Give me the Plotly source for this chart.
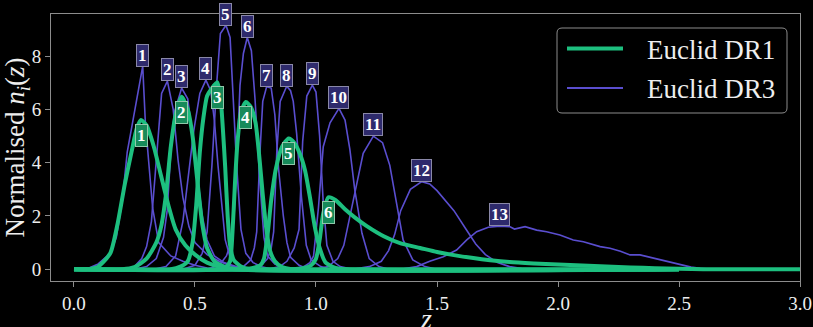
import plotly.graph_objects as go

# ---------------- data ----------------
bin_labels_dr1 = ["1", "2", "3", "4", "5", "6"]
bin_labels_dr3 = ["1", "2", "3", "4", "5", "6", "7", "8", "9", "10", "11", "12", "13"]
series_names = ["Euclid DR1", "Euclid DR3"]

dr1_z = [
    [0.0, 0.05, 0.10, 0.15, 0.18, 0.21, 0.24, 0.26, 0.277, 0.30, 0.33, 0.36, 0.39, 0.42, 0.46, 0.50, 0.55, 0.60, 0.65, 0.70, 2.5],
    [0.0, 0.20, 0.25, 0.30, 0.34, 0.36, 0.38, 0.40, 0.42, 0.445, 0.47, 0.49, 0.51, 0.53, 0.55, 0.58, 0.62, 0.66, 2.5],
    [0.0, 0.40, 0.44, 0.47, 0.49, 0.505, 0.52, 0.535, 0.55, 0.57, 0.592, 0.605, 0.615, 0.625, 0.635, 0.645, 0.66, 0.69, 0.73, 2.5],
    [0.0, 0.60, 0.63, 0.645, 0.655, 0.665, 0.675, 0.69, 0.71, 0.73, 0.75, 0.765, 0.78, 0.795, 0.81, 0.83, 0.86, 0.90, 2.5],
    [0.0, 0.70, 0.74, 0.77, 0.785, 0.80, 0.815, 0.835, 0.86, 0.887, 0.91, 0.935, 0.955, 0.975, 0.995, 1.015, 1.04, 1.08, 1.12, 2.5],
    [0.0, 0.90, 0.95, 0.98, 1.00, 1.015, 1.03, 1.051, 1.08, 1.12, 1.16, 1.21, 1.28, 1.35, 1.43, 1.50, 1.57, 1.65, 1.72, 1.80,
     1.90, 2.00, 2.10, 2.20, 2.30, 2.40, 2.50, 2.60, 3.0],
]
dr1_n = [
    [0.0, 0.0, 0.1, 0.6, 1.7, 3.2, 4.5, 5.3, 5.6, 5.4, 4.6, 3.5, 2.4, 1.5, 0.9, 0.55, 0.25, 0.1, 0.03, 0.0, 0.0],
    [0.0, 0.0, 0.08, 0.4, 1.0, 1.6, 2.8, 4.6, 5.8, 6.47, 6.0, 5.0, 3.3, 1.7, 0.8, 0.3, 0.1, 0.0, 0.0],
    [0.0, 0.0, 0.1, 0.3, 1.0, 2.4, 4.4, 5.7, 6.5, 6.8, 7.02, 6.5, 5.3, 3.8, 2.0, 0.9, 0.35, 0.1, 0.0, 0.0],
    [0.0, 0.0, 0.1, 0.3, 1.4, 3.2, 4.7, 5.9, 6.28, 6.1, 5.5, 4.3, 2.8, 1.5, 0.7, 0.3, 0.08, 0.0, 0.0],
    [0.0, 0.0, 0.05, 0.15, 0.4, 1.3, 2.6, 3.8, 4.6, 4.91, 4.75, 4.3, 3.7, 2.7, 1.6, 0.8, 0.25, 0.05, 0.0, 0.0],
    [0.0, 0.0, 0.05, 0.15, 0.4, 1.1, 2.1, 2.7, 2.6, 2.25, 1.95, 1.62, 1.24, 0.97, 0.8, 0.65, 0.53, 0.42, 0.34, 0.27,
     0.22, 0.18, 0.14, 0.1, 0.07, 0.04, 0.02, 0.0, 0.0],
]

dr3_z = [
    [0.05, 0.10, 0.15, 0.175, 0.20, 0.22, 0.24, 0.284, 0.295, 0.31, 0.325, 0.35, 0.40, 0.45, 0.50, 0.55, 0.60, 3.0],
    [0.05, 0.20, 0.25, 0.28, 0.30, 0.32, 0.335, 0.35, 0.362, 0.386, 0.41, 0.43, 0.45, 0.475, 0.50, 0.55, 0.60, 0.65, 0.70, 3.0],
    [0.05, 0.25, 0.30, 0.34, 0.37, 0.385, 0.40, 0.415, 0.445, 0.47, 0.49, 0.51, 0.53, 0.55, 0.58, 0.62, 0.67, 0.72, 3.0],
    [0.05, 0.33, 0.38, 0.42, 0.45, 0.47, 0.495, 0.52, 0.545, 0.565, 0.58, 0.595, 0.61, 0.625, 0.645, 0.68, 0.72, 3.0],
    [0.05, 0.45, 0.50, 0.53, 0.55, 0.57, 0.59, 0.605, 0.628, 0.645, 0.658, 0.672, 0.69, 0.71, 0.74, 0.78, 0.82, 3.0],
    [0.05, 0.55, 0.60, 0.63, 0.645, 0.66, 0.672, 0.686, 0.70, 0.716, 0.733, 0.748, 0.768, 0.785, 0.80, 0.83, 0.87, 0.90, 3.0],
    [0.05, 0.65, 0.70, 0.73, 0.745, 0.755, 0.768, 0.78, 0.796, 0.815, 0.83, 0.845, 0.865, 0.88, 0.895, 0.93, 0.97, 3.0],
    [0.05, 0.72, 0.77, 0.80, 0.815, 0.825, 0.838, 0.852, 0.879, 0.895, 0.906, 0.92, 0.94, 0.96, 0.98, 1.02, 1.06, 3.0],
    [0.05, 0.80, 0.85, 0.88, 0.91, 0.93, 0.945, 0.962, 0.985, 1.00, 1.015, 1.03, 1.045, 1.07, 1.10, 1.15, 3.0],
    [0.05, 0.90, 0.95, 0.975, 0.99, 1.01, 1.03, 1.058, 1.095, 1.12, 1.14, 1.16, 1.19, 1.22, 1.26, 1.30, 3.0],
    [0.05, 1.00, 1.05, 1.09, 1.115, 1.155, 1.195, 1.237, 1.275, 1.305, 1.335, 1.36, 1.40, 1.45, 1.50, 3.0],
    [0.05, 1.15, 1.22, 1.27, 1.30, 1.325, 1.35, 1.39, 1.437, 1.47, 1.50, 1.54, 1.57, 1.62, 1.66, 1.70, 1.75, 1.80, 1.85, 1.90, 3.0],
    [0.05, 1.35, 1.416, 1.47, 1.526, 1.581, 1.623, 1.664, 1.712, 1.76, 1.80, 1.82, 1.864, 1.912, 1.953, 2.008, 2.063, 2.105,
     2.174, 2.215, 2.258, 2.298, 2.339, 2.38, 2.421, 2.46, 2.504, 2.55, 2.587, 2.64, 3.0],
]
dr3_n = [
    [0.0, 0.2, 0.6, 1.2, 2.6, 4.4, 5.4, 7.62, 5.5, 4.0, 2.3, 1.0, 0.5, 0.3, 0.15, 0.05, 0.0, 0.0],
    [0.0, 0.0, 0.1, 0.4, 0.85, 1.8, 3.5, 5.2, 6.6, 7.06, 6.0, 4.1, 2.7, 1.6, 1.0, 0.55, 0.3, 0.12, 0.0, 0.0],
    [0.0, 0.0, 0.1, 0.4, 1.2, 2.2, 4.4, 5.9, 6.8, 6.4, 5.0, 3.4, 2.0, 1.1, 0.5, 0.25, 0.1, 0.0, 0.0],
    [0.0, 0.0, 0.1, 0.5, 1.8, 3.3, 5.2, 6.6, 7.1, 6.7, 5.6, 3.9, 2.4, 1.1, 0.45, 0.15, 0.0, 0.0],
    [0.0, 0.0, 0.15, 0.6, 1.4, 3.9, 7.0, 8.85, 9.16, 8.7, 6.4, 3.9, 1.5, 0.6, 0.25, 0.08, 0.0, 0.0],
    [0.0, 0.0, 0.15, 0.5, 0.9, 1.8, 3.8, 6.9, 8.1, 8.7, 8.2, 6.4, 3.3, 1.2, 0.5, 0.2, 0.06, 0.0, 0.0],
    [0.0, 0.0, 0.1, 0.35, 0.8, 1.4, 4.3, 6.3, 6.85, 6.8, 5.8, 3.8, 2.0, 1.0, 0.45, 0.15, 0.0, 0.0],
    [0.0, 0.0, 0.1, 0.4, 0.8, 1.4, 4.4, 6.3, 6.87, 6.7, 6.3, 5.1, 2.7, 0.9, 0.35, 0.1, 0.0, 0.0],
    [0.0, 0.0, 0.1, 0.3, 0.8, 1.5, 4.8, 6.5, 6.91, 6.65, 5.0, 2.5, 0.9, 0.3, 0.1, 0.0, 0.0],
    [0.0, 0.0, 0.1, 0.25, 0.5, 2.3, 4.6, 5.5, 6.04, 5.6, 4.5, 3.0, 1.35, 0.4, 0.1, 0.0, 0.0],
    [0.0, 0.0, 0.1, 0.4, 0.9, 2.6, 4.35, 5.0, 4.75, 3.9, 2.35, 1.1, 0.35, 0.1, 0.0, 0.0],
    [0.0, 0.0, 0.1, 0.3, 0.7, 1.3, 2.2, 3.0, 3.29, 3.2, 2.95, 2.5, 2.2, 1.5, 0.95, 0.55, 0.25, 0.1, 0.03, 0.0, 0.0],
    [0.0, 0.0, 0.1, 0.3, 0.47, 0.72, 1.1, 1.41, 1.58, 1.62, 1.6, 1.51, 1.6, 1.47, 1.41, 1.29, 1.1, 1.03,
     0.85, 0.79, 0.68, 0.54, 0.54, 0.45, 0.35, 0.25, 0.16, 0.08, 0.04, 0.0, 0.0],
]

# ---------------- styling ----------------
FONT = "Liberation Serif"
GREEN = "#1dbf7f"
PURPLE = "#5a4ecf"
GREEN_BOX = "#178a5a"
PURPLE_BOX = "#2e2a6c"
AXIS_GREY = "#8c8c8c"
TEXT = "#eeeeee"

W, H = 813, 327
ML, MR, MT, MB = 51, 13, 14, 46
PW, PH = W - ML - MR, H - MT - MB


def px_x(px):  # page pixel -> paper x
    return (px - ML) / PW


def px_y(py):  # page pixel -> paper y
    return (H - MB - py) / PH


fig = go.Figure()

for k, (zs, ns) in enumerate(zip(dr3_z, dr3_n)):
    fig.add_trace(go.Scatter(
        x=zs, y=ns, mode="lines", name=series_names[1], legendgroup="dr3",
        showlegend=False, line=dict(color=PURPLE, width=1.6), hoverinfo="skip"))

for k, (zs, ns) in enumerate(zip(dr1_z, dr1_n)):
    fig.add_trace(go.Scatter(
        x=zs, y=ns, mode="lines", name=series_names[0], legendgroup="dr1",
        showlegend=False, line=dict(color=GREEN, width=4, shape="spline", smoothing=0.6),
        hoverinfo="skip"))

# bin labels at the peaks
for lab, zs, ns in zip(bin_labels_dr3, dr3_z, dr3_n):
    i = max(range(len(ns)), key=lambda j: ns[j])
    fig.add_annotation(x=zs[i], y=ns[i] + 0.42, text=f"<b>{lab}</b>", showarrow=False,
                       font=dict(family=FONT, size=17, color="white"),
                       bgcolor=PURPLE_BOX, bordercolor="#8a88a8", borderwidth=1, borderpad=1)
for lab, zs, ns in zip(bin_labels_dr1, dr1_z, dr1_n):
    i = max(range(len(ns)), key=lambda j: ns[j])
    fig.add_annotation(x=zs[i], y=ns[i] - 0.57, text=f"<b>{lab}</b>", showarrow=False,
                       font=dict(family=FONT, size=17, color="white"),
                       bgcolor=GREEN_BOX, bordercolor="#8fc8aa", borderwidth=1, borderpad=1)

# legend (rounded frame, line samples, labels)
bx0, bx1, by0, by1, r = 557, 787, 28, 113, 5
rx, ry = r / PW, r / PH
X0, X1, Y0, Y1 = px_x(bx0), px_x(bx1), px_y(by0), px_y(by1)
path = (f"M{X0 + rx},{Y0} L{X1 - rx},{Y0} Q{X1},{Y0} {X1},{Y0 - ry} "
        f"L{X1},{Y1 + ry} Q{X1},{Y1} {X1 - rx},{Y1} L{X0 + rx},{Y1} "
        f"Q{X0},{Y1} {X0},{Y1 + ry} L{X0},{Y0 - ry} Q{X0},{Y0} {X0 + rx},{Y0} Z")
fig.add_shape(type="path", path=path, xref="paper", yref="paper",
              line=dict(color=AXIS_GREY, width=1), fillcolor="black", layer="above")
for name, col, wid, py in [(series_names[0], GREEN, 4, 48.5), (series_names[1], PURPLE, 1.8, 88)]:
    fig.add_shape(type="line", xref="paper", yref="paper",
                  x0=px_x(567), x1=px_x(623), y0=px_y(py), y1=px_y(py),
                  line=dict(color=col, width=wid), layer="above")
    fig.add_annotation(xref="paper", yref="paper", x=px_x(645), y=px_y(py + 1),
                       xanchor="left", yanchor="middle", text=name, showarrow=False,
                       font=dict(family=FONT, size=27, color=TEXT))

# x-axis title (placed like the reference, partly below the tick labels)
fig.add_annotation(xref="paper", yref="paper", x=0.5, y=px_y(318), xanchor="center",
                   yanchor="middle", text="<i>z</i>", showarrow=False,
                   font=dict(family=FONT, size=28, color=TEXT))

axis_common = dict(
    showgrid=False, zeroline=False, showline=True, mirror=True, automargin=False,
    linecolor=AXIS_GREY, linewidth=1, ticks="outside", ticklen=5, tickwidth=1,
    tickcolor=AXIS_GREY, tickfont=dict(family=FONT, size=19, color=TEXT),
)

fig.update_layout(
    width=W, height=H,
    paper_bgcolor="black", plot_bgcolor="black",
    margin=dict(l=ML, r=MR, t=MT, b=MB),
    font=dict(family=FONT, color=TEXT),
    xaxis=dict(range=[-0.095, 3.0], tickvals=[0, 0.5, 1.0, 1.5, 2.0, 2.5, 3.0],
               ticktext=["0.0", "0.5", "1.0", "1.5", "2.0", "2.5", "3.0"],
               **axis_common),
    yaxis=dict(range=[-0.44, 9.58], tickvals=[0, 2, 4, 6, 8],
               title=dict(text="Normalised <i>n</i><sub><i>i</i></sub>(<i>z</i>)",
                          font=dict(family=FONT, size=27, color=TEXT), standoff=2),
               **axis_common),
    showlegend=False,
)

fig.write_html("out.html", config={"displayModeBar": False},
               post_script="document.body.style.margin='0';document.body.style.background='black';")
